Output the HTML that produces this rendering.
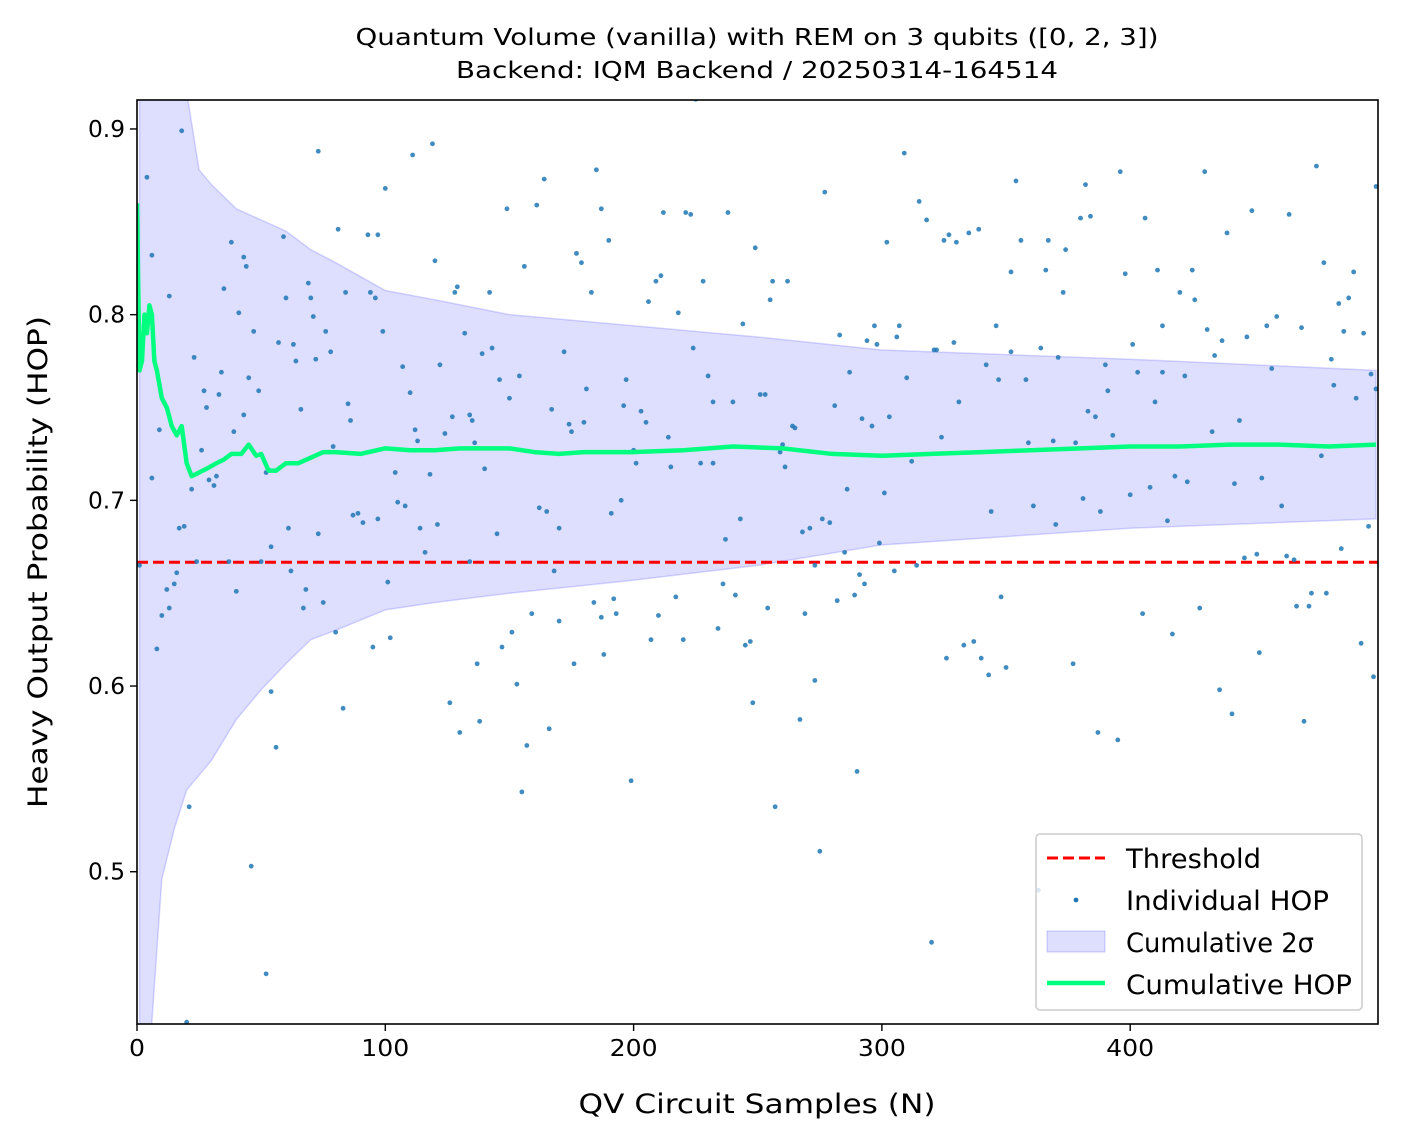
<!DOCTYPE html>
<html><head><meta charset="utf-8"><style>
html,body{margin:0;padding:0;background:#fff;width:1401px;height:1144px;overflow:hidden;}
svg{display:block;position:absolute;left:0;top:0;font-family:"DejaVu Sans","Liberation Sans",sans-serif;}
</style></head><body>
<svg id="chart" width="1401" height="1144" viewBox="0 0 1401 1144">
<text x="757" y="45" text-anchor="middle" font-size="23" textLength="803" lengthAdjust="spacingAndGlyphs">Quantum Volume (vanilla) with REM on 3 qubits ([0, 2, 3])</text>
<text x="757" y="78" text-anchor="middle" font-size="23" textLength="602" lengthAdjust="spacingAndGlyphs">Backend: IQM Backend / 20250314-164514</text>
<text x="757" y="1113" text-anchor="middle" font-size="27" textLength="357" lengthAdjust="spacingAndGlyphs">QV Circuit Samples (N)</text>
<text transform="translate(47,562) rotate(-90)" text-anchor="middle" font-size="27" textLength="492" lengthAdjust="spacingAndGlyphs">Heavy Output Probability (HOP)</text>
</svg>
<script>
const hopX=[1,4,6,6,8,9,10,12,13,13,15,16,17,18,19,20,21,22,23,24,26,27,28,29,31,32,33,34,35,37,38,39,40,41,43,43,44,45,46,47,49,50,52,52,54,54,56,57,59,60,61,62,63,64,66,67,68,69,70,71,72,73,73,75,76,78,79,80,81,83,84,85,86,87,89,91,93,94,95,96,97,97,99,100,101,102,104,105,107,108,110,111,112,113,114,116,118,119,120,121,122,124,126,127,128,129,130,132,134,134,135,136,137,138,139,140,142,143,145,146,147,149,150,151,153,154,155,156,157,159,161,162,164,165,166,167,168,170,170,172,174,175,176,177,179,180,181,183,184,185,187,187,188,190,191,192,193,195,196,197,199,200,201,203,205,206,207,209,210,211,212,214,215,217,218,220,221,223,224,225,227,228,230,232,232,234,236,237,238,240,241,243,244,245,247,248,249,251,253,254,255,256,257,259,260,261,262,264,265,267,268,269,271,273,273,275,276,277,279,281,282,283,285,286,287,289,290,291,292,293,294,296,297,298,299,301,302,303,305,306,307,309,310,312,314,315,318,320,321,322,324,325,326,327,329,330,331,333,335,337,339,340,342,343,344,346,347,348,350,352,352,354,356,358,359,361,363,364,366,367,369,370,371,373,374,377,378,380,381,382,383,384,386,387,388,390,391,393,395,396,398,400,401,403,405,406,408,410,411,413,413,415,417,418,420,422,423,425,426,428,430,431,433,434,436,437,439,441,442,444,446,447,449,451,452,453,455,457,459,461,463,464,466,467,469,470,472,473,475,477,478,479,481,482,484,485,486,488,490,491,493,494,496,497,498,499,499];
const hopY=[0.665,0.874,0.832,0.712,0.620,0.738,0.638,0.652,0.810,0.642,0.655,0.661,0.685,0.899,0.686,0.419,0.535,0.706,0.777,0.667,0.727,0.759,0.750,0.711,0.708,0.713,0.757,0.769,0.814,0.667,0.839,0.737,0.651,0.801,0.746,0.831,0.826,0.766,0.503,0.791,0.759,0.667,0.715,0.445,0.597,0.675,0.567,0.785,0.842,0.809,0.685,0.662,0.784,0.775,0.749,0.642,0.652,0.817,0.809,0.799,0.776,0.888,0.682,0.645,0.791,0.780,0.729,0.629,0.846,0.588,0.812,0.752,0.743,0.692,0.693,0.688,0.843,0.812,0.621,0.809,0.843,0.690,0.791,0.868,0.656,0.626,0.715,0.699,0.772,0.697,0.758,0.886,0.738,0.732,0.685,0.672,0.714,0.892,0.829,0.687,0.773,0.736,0.591,0.745,0.812,0.815,0.575,0.790,0.746,0.667,0.743,0.731,0.612,0.581,0.779,0.717,0.812,0.782,0.682,0.765,0.621,0.857,0.755,0.629,0.601,0.767,0.543,0.826,0.568,0.639,0.859,0.696,0.873,0.694,0.577,0.749,0.662,0.685,0.635,0.780,0.741,0.737,0.612,0.833,0.828,0.742,0.760,0.812,0.645,0.878,0.637,0.857,0.617,0.840,0.693,0.647,0.639,0.700,0.751,0.765,0.549,0.727,0.720,0.748,0.742,0.807,0.625,0.818,0.638,0.821,0.855,0.734,0.718,0.648,0.801,0.625,0.855,0.854,0.782,0.916,0.720,0.818,0.767,0.720,0.753,0.631,0.655,0.679,0.855,0.753,0.649,0.690,0.795,0.622,0.624,0.591,0.836,0.757,0.757,0.642,0.808,0.818,0.535,0.726,0.730,0.718,0.818,0.740,0.739,0.582,0.683,0.639,0.685,0.665,0.603,0.511,0.690,0.866,0.688,0.751,0.646,0.789,0.672,0.706,0.769,0.649,0.554,0.660,0.744,0.655,0.786,0.740,0.794,0.784,0.677,0.704,0.839,0.745,0.662,0.788,0.794,0.887,0.766,0.721,0.665,0.861,0.851,0.462,0.781,0.781,0.734,0.840,0.615,0.843,0.785,0.839,0.753,0.622,0.844,0.624,0.846,0.615,0.773,0.606,0.694,0.794,0.765,0.648,0.610,0.823,0.780,0.872,0.840,0.765,0.731,0.697,0.490,0.782,0.824,0.840,0.732,0.687,0.777,0.812,0.835,0.612,0.731,0.852,0.701,0.870,0.748,0.853,0.745,0.575,0.694,0.773,0.759,0.735,0.571,0.877,0.822,0.703,0.784,0.769,0.639,0.852,0.707,0.753,0.824,0.794,0.769,0.689,0.628,0.713,0.812,0.767,0.710,0.824,0.808,0.642,0.877,0.792,0.737,0.778,0.598,0.786,0.844,0.585,0.709,0.743,0.669,0.788,0.856,0.671,0.618,0.712,0.794,0.771,0.799,0.697,0.670,0.854,0.668,0.643,0.793,0.581,0.643,0.650,0.880,0.724,0.828,0.650,0.776,0.762,0.806,0.674,0.791,0.809,0.823,0.755,0.623,0.790,0.686,0.768,0.605,0.869,0.760];
const cumX=[0,1,2,3,4,5,6,7,8,10,12,14,16,18,19,20,22,25,28,32,35,38,42,45,48,50,53,56,60,65,70,75,80,90,100,110,120,130,150,160,170,180,200,220,240,260,280,300,320,340,360,380,400,420,440,460,480,499];
const cumY=[0.86,0.77,0.775,0.80,0.79,0.805,0.80,0.775,0.77,0.755,0.75,0.74,0.735,0.74,0.73,0.72,0.713,0.715,0.717,0.72,0.722,0.725,0.725,0.73,0.724,0.725,0.716,0.716,0.72,0.72,0.723,0.726,0.726,0.725,0.728,0.727,0.727,0.728,0.728,0.726,0.725,0.726,0.726,0.727,0.729,0.728,0.725,0.724,0.725,0.726,0.727,0.728,0.729,0.729,0.730,0.730,0.729,0.730];
const bandX=[1,5,10,15,20,25,30,40,50,60,70,80,100,120,150,200,250,300,400,499];
const bandUp=[1.2,1.1,1.0,0.96,0.92,0.878,0.87,0.857,0.851,0.845,0.835,0.828,0.813,0.808,0.800,0.794,0.788,0.781,0.776,0.770];
const bandLo=[0.3,0.40,0.496,0.523,0.544,0.552,0.56,0.582,0.598,0.612,0.625,0.63,0.641,0.645,0.650,0.657,0.665,0.676,0.685,0.690];
const threshold=2/3;
const xTicks=[0,100,200,300,400];
const yTicks=[0.5,0.6,0.7,0.8,0.9];

const L=137,R=1378,T=100,B=1024,xMin=0,xMax=499.8,yMin=0.418,yMax=0.9156;
const sx=v=>L+(v-xMin)/(xMax-xMin)*(R-L);
const sy=v=>B-(v-yMin)/(yMax-yMin)*(B-T);
const NS='http://www.w3.org/2000/svg';
const svg=document.getElementById('chart');
function mk(tag,attrs,parent){const e=document.createElementNS(NS,tag);for(const k in attrs)e.setAttribute(k,attrs[k]);(parent||svg).appendChild(e);return e;}

const defs=mk('defs',{});
const cp=mk('clipPath',{id:'clip'},defs);
mk('rect',{x:L,y:T,width:R-L,height:B-T},cp);
const plot=mk('g',{'clip-path':'url(#clip)'});



let d='';
bandX.forEach((x,i)=>{d+=(i?'L':'M')+sx(x)+','+sy(bandUp[i]);});
for(let i=bandX.length-1;i>=0;i--)d+='L'+sx(bandX[i])+','+sy(bandLo[i]);
const band=mk('path',{d:d+'Z',fill:'rgba(0,0,255,0.13)',stroke:'rgba(0,0,255,0.15)','stroke-width':1.5},plot);



const th=mk('line',{x1:L,x2:R,y1:sy(threshold),y2:sy(threshold),stroke:'#ff0000','stroke-width':3,'stroke-dasharray':'11,5'},plot);



hopX.forEach((x,i)=>{
  const c=mk('circle',{cx:sx(x),cy:sy(hopY[i]),r:2.4,fill:'#1f77b4','fill-opacity':0.85},plot);
  
  
});

let p='';
cumX.forEach((x,i)=>{p+=(i?'L':'M')+sx(x)+','+sy(cumY[i]);});
const cl=mk('path',{d:p,fill:'none',stroke:'#00ff7f','stroke-width':4.5,'stroke-linejoin':'round'},plot);



const fr=mk('rect',{x:L,y:T,width:R-L,height:B-T,fill:'none',stroke:'#000','stroke-width':1.6});



xTicks.forEach(t=>{
  const tl=mk('line',{x1:sx(t),x2:sx(t),y1:B,y2:B+7,stroke:'#000','stroke-width':1.4});
  
  
  const s=String(t);
  const tx=mk('text',{x:sx(t),y:B+32,'text-anchor':'middle','font-size':23,textLength:16*s.length,lengthAdjust:'spacingAndGlyphs'});
  tx.textContent=s;
  
  
});
yTicks.forEach(t=>{
  const tl=mk('line',{x1:L-7,x2:L,y1:sy(t),y2:sy(t),stroke:'#000','stroke-width':1.4});
  
  
  const tx=mk('text',{x:L-12,y:sy(t)+8,'text-anchor':'end','font-size':23,textLength:37,lengthAdjust:'spacingAndGlyphs'});
  tx.textContent=t.toFixed(1);
  
  
});

const lg=mk('g',{'font-size':27});


const lb=mk('rect',{x:1036,y:834,width:326,height:176,rx:4,fill:'#fff','fill-opacity':0.8,stroke:'#ccc','stroke-width':1.5},lg);


const s1=mk('line',{x1:1047,x2:1105,y1:858,y2:858,stroke:'#ff0000','stroke-width':3,'stroke-dasharray':'11,5'},lg);


const s2=mk('circle',{cx:1076,cy:900,r:2.4,fill:'#1f77b4'},lg);


const s3=mk('rect',{x:1047,y:931,width:58,height:21,fill:'rgba(0,0,255,0.13)',stroke:'rgba(0,0,255,0.2)'},lg);


const s4=mk('line',{x1:1047,x2:1105,y1:983,y2:983,stroke:'#00ff7f','stroke-width':4.5},lg);


const legTexts=['Threshold','Individual HOP','Cumulative 2σ','Cumulative HOP'];
const legW=[135,203,188,226];
legTexts.forEach((s,i)=>{
  const t=mk('text',{x:1126,y:868+i*42,textLength:legW[i],lengthAdjust:'spacingAndGlyphs'},lg);
  t.textContent=s;
  
  
});
</script>
</body></html>
